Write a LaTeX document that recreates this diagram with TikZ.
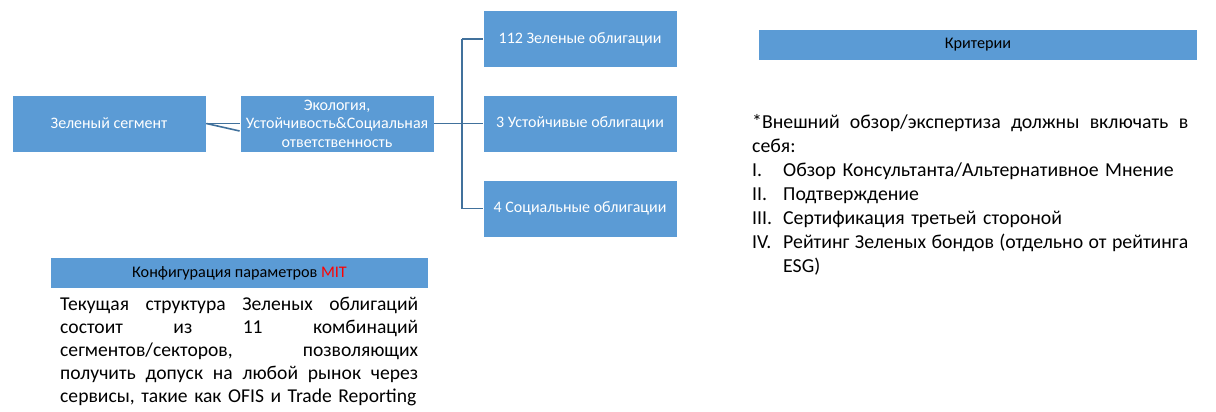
\documentclass[tikz,border=0pt]{standalone}
\usepackage{fontspec}
\setmainfont{Carlito}
\definecolor{boxblue}{HTML}{5B9BD5}
\definecolor{lineblue}{HTML}{41719C}
\definecolor{mitred}{HTML}{FF0000}
\begin{document}
\begin{tikzpicture}[x=1pt,y=-1pt,
  box/.style={fill=boxblue,draw=white,line width=0.8pt,text=white,minimum width=194pt,minimum height=57pt,inner sep=0pt,align=center,font=\fontsize{16}{18.5}\selectfont},
  bar/.style={fill=boxblue,draw=none,text=black,minimum height=30pt,inner sep=0pt,font=\fontsize{16.2}{18}\selectfont},
  conn/.style={draw=lineblue,line width=1.6pt},
  body/.style={inner sep=0pt,anchor=north west,align=left,font=\fontsize{19.6}{23}\selectfont}]
\useasboundingbox (0,0) rectangle (1216,412);
% boxes
\node[box] (g) at (109,123.5) {Зеленый сегмент};
\node[box] (e) at (337,123.5) {Экология,\\Устойчивость\&Социальная\\ответственность};
\node[box] (b1) at (580,39) {112 Зеленые облигации};
\node[box] (b2) at (580,123.5) {3 Устойчивые облигации};
\node[box] (b3) at (580,208.5) {4 Социальные облигации};
% connectors
\draw[conn] (g.east) -- (e.west);
\draw[conn] (g.east) -- (e.west |- 0,131);
\coordinate (j) at (462,123.5);
\draw[conn] (e.east) -- (j);
\draw[conn] (j |- b1.west) -- (j |- b3.west);
\draw[conn] (j |- b1.west) -- (b1.west);
\draw[conn] (j) -- (b2.west);
\draw[conn] (j |- b3.west) -- (b3.west);
% bars
\node[bar,minimum width=438pt] (crit) at (978,45) {Критерии};
\node[bar,minimum width=377pt] (conf) at (239.5,273) {Конфигурация параметров \textcolor{mitred}{MIT}};
% left paragraph
\node[body,text width=358pt] (ltxt) at (60,297) {%
Текущая\hfill структура\hfill Зеленых\hfill облигаций\\
состоит\hfill из\hfill 11\hfill комбинаций\\
сегментов/секторов,\hfill позволяющих\\
получить\hfill допуск\hfill на\hfill любой\hfill рынок\hfill через\\
сервисы, такие как OFIS и Trade Reporting};
% right paragraph
\node[body,text width=436pt,font=\fontsize{19.8}{24}\selectfont] (rtxt) at (752,114) {%
*Внешний\hfill обзор/экспертиза\hfill должны\hfill включать\hfill в\\
себя:\\
\makebox[31pt][l]{I.}Обзор Консультанта/Альтернативное Мнение\\
\makebox[31pt][l]{II.}Подтверждение\\
\makebox[31pt][l]{III.}Сертификация третьей стороной\\
\makebox[31pt][l]{IV.}Рейтинг\hfill Зеленых\hfill бондов\hfill (отдельно\hfill от\hfill рейтинга\\
\hspace*{31pt}ESG)};
\end{tikzpicture}
\end{document}
